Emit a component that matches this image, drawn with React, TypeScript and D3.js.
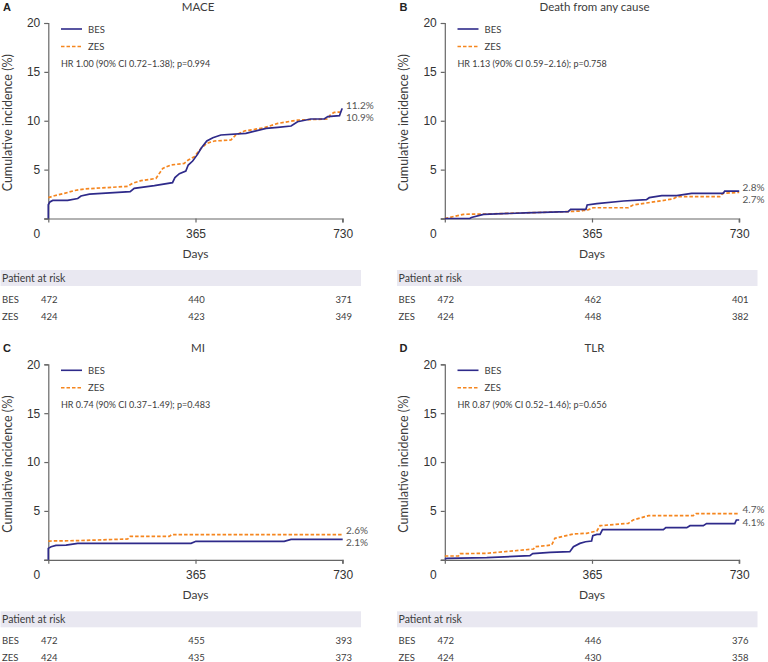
import { useEffect, useRef } from "react";
import * as d3 from "d3";

type Pt = [number, number];

const letters = ["A", "B", "C", "D"];
const titles = ["MACE", "Death from any cause", "MI", "TLR"];
const hrTexts = [
  "HR 1.00 (90% CI 0.72–1.38); p=0.994",
  "HR 1.13 (90% CI 0.59–2.16); p=0.758",
  "HR 0.74 (90% CI 0.37–1.49); p=0.483",
  "HR 0.87 (90% CI 0.52–1.46); p=0.656",
];
const seriesNames = ["BES", "ZES"];
const xTicks = [0, 365, 730];
const yTicks = [0, 5, 10, 15, 20];

// [day, cumulative incidence %]
const maceBes: Pt[] = [
  [0, 0], [0, 1.4], [4, 1.7], [11, 1.85], [48, 1.86], [73, 2.05], [81, 2.3], [102, 2.5],
  [203, 2.74], [213, 3.08], [263, 3.36], [308, 3.67], [314, 4.18], [325, 4.59], [341, 4.86],
  [347, 5.47], [358, 5.88], [370, 6.56], [379, 7.18], [393, 7.93], [408, 8.27], [428, 8.54],
  [490, 8.71], [507, 8.88], [540, 9.22], [569, 9.32], [602, 9.46], [618, 9.9], [651, 10.18],
  [684, 10.18], [693, 10.42], [722, 10.52], [728, 11.2], [730, 11.2],
];
const maceZes: Pt[] = [
  [0, 2.13], [15, 2.33], [40, 2.57], [64, 2.85], [89, 3.02], [197, 3.29], [209, 3.6],
  [230, 3.87], [267, 4.1], [275, 4.59], [284, 5.13], [304, 5.47], [337, 5.64], [347, 5.98],
  [362, 6.32], [379, 7.18], [393, 7.69], [412, 7.93], [453, 8.03], [465, 8.54], [486, 8.95],
  [536, 9.29], [569, 9.73], [618, 10.07], [693, 10.18], [699, 10.59], [709, 10.86], [730, 10.9],
];
const deathBes: Pt[] = [
  [0, 0], [62, 0], [66, 0.1], [96, 0.42], [200, 0.58], [306, 0.7], [312, 0.94], [350, 0.94],
  [353, 1.38], [377, 1.52], [443, 1.79], [500, 1.93], [507, 2.13], [538, 2.34], [575, 2.34],
  [612, 2.57], [690, 2.57], [694, 2.8], [730, 2.8],
];
const deathZes: Pt[] = [
  [0, 0], [13, 0.12], [46, 0.43], [104, 0.46], [302, 0.7], [339, 0.77], [343, 0.83],
  [352, 0.83], [368, 1.1], [455, 1.1], [467, 1.38], [566, 2.0], [576, 2.23], [682, 2.23],
  [689, 2.57], [730, 2.68],
];
const miBes: Pt[] = [
  [0, 0], [0, 1.17], [7, 1.34], [19, 1.48], [44, 1.51], [73, 1.68], [354, 1.68], [366, 1.89],
  [585, 1.89], [602, 2.09], [730, 2.09],
];
const miZes: Pt[] = [
  [0, 1.92], [73, 1.96], [197, 2.13], [203, 2.4], [300, 2.4], [306, 2.57], [730, 2.57],
];
const tlrBes: Pt[] = [
  [0, 0.08], [5, 0.15], [104, 0.22], [211, 0.42], [218, 0.63], [261, 0.76], [310, 0.83],
  [319, 1.34], [335, 1.68], [349, 1.85], [364, 1.92], [367, 2.47], [377, 2.6], [385, 2.6],
  [391, 3.08], [542, 3.08], [548, 3.29], [600, 3.29], [608, 3.49], [641, 3.49], [649, 3.7],
  [719, 3.7], [723, 4.07], [730, 4.07],
];
const tlrZes: Pt[] = [
  [0, 0.39], [34, 0.39], [38, 0.63], [104, 0.66], [220, 1.1], [224, 1.34], [265, 1.51],
  [273, 2.2], [319, 2.64], [352, 2.71], [377, 2.95], [385, 3.49], [455, 3.73], [467, 4.07],
  [505, 4.51], [616, 4.51], [623, 4.72], [730, 4.72],
];

const besCurves = [maceBes, deathBes, miBes, tlrBes];
const zesCurves = [maceZes, deathZes, miZes, tlrZes];
const finalBes = [11.2, 2.8, 2.1, 4.1];
const finalZes = [10.9, 2.7, 2.6, 4.7];

const riskBes = [
  [472, 440, 371],
  [472, 462, 401],
  [472, 455, 393],
  [472, 446, 376],
];
const riskZes = [
  [424, 423, 349],
  [424, 448, 382],
  [424, 435, 373],
  [424, 430, 358],
];

const BLUE = "#2e2a8a";
const ORANGE = "#f5861f";
const TEXT = "#3c3c3c";
const LATO = "Lato, 'Noto Sans', sans-serif";
const ARIAL = "'Liberation Sans', Arial, sans-serif";

export default function App() {
  const svgRef = useRef<SVGSVGElement | null>(null);

  useEffect(() => {
    const svg = d3.select(svgRef.current);
    svg.selectAll("*").remove();

    const offsets: [number, number][] = [
      [0, 0],
      [396.5, 0],
      [0, 341.3],
      [396.5, 341.3],
    ];

    offsets.forEach(([ox, oy], i) => {
      const g = svg.append("g").attr("transform", `translate(${ox},${oy})`);
      const x = d3.scaleLinear().domain([0, 730]).range([48.3, 342.7]);
      const y = d3.scaleLinear().domain([0, 20]).range([218.5, 23]);

      // panel letter and title
      g.append("text")
        .attr("x", 3)
        .attr("y", 11)
        .attr("font-family", ARIAL)
        .attr("font-weight", "bold")
        .attr("font-size", 11)
        .attr("fill", "#222")
        .text(letters[i]);
      g.append("text")
        .attr("x", 198)
        .attr("y", 10.5)
        .attr("text-anchor", "middle")
        .attr("font-family", LATO)
        .attr("font-size", 11.5)
        .attr("fill", TEXT)
        .text(titles[i]);

      // axes
      const yAxis = g.append("g")
        .attr("transform", `translate(${x(0)},0)`)
        .call(d3.axisLeft(y).tickValues(yTicks).tickSize(4).tickPadding(4)
          .tickFormat((d) => (d === 0 ? "" : String(d))));
      const xAxis = g.append("g")
        .attr("transform", `translate(0,${y(0)})`)
        .call(d3.axisBottom(x).tickValues(xTicks).tickSize(4).tickPadding(7));
      [yAxis, xAxis].forEach((ax) => {
        ax.select(".domain").attr("stroke", "#666").attr("stroke-width", 1.2);
        ax.selectAll(".tick line").attr("stroke", "#666").attr("stroke-width", 1.2);
        ax.selectAll("text")
          .attr("font-family", ARIAL)
          .attr("font-size", 12)
          .attr("fill", "#333");
      });
      xAxis.select(".domain").attr("d", `M${x(0) - 4},0.5H${x(730)}V4`);
      xAxis.selectAll<SVGTextElement, number>(".tick text")
        .attr("dx", (d) => (d === 0 ? -12 : 0));

      g.append("text")
        .attr("x", x(365))
        .attr("y", 258)
        .attr("text-anchor", "middle")
        .attr("font-family", LATO)
        .attr("font-size", 12)
        .attr("fill", TEXT)
        .text("Days");
      g.append("text")
        .attr("transform", `translate(11.5,${(y(0) + y(20)) / 2 + 2}) rotate(-90)`)
        .attr("text-anchor", "middle")
        .attr("font-family", LATO)
        .attr("font-size", 12.5)
        .attr("fill", TEXT)
        .text("Cumulative incidence (%)");

      // curves
      const line = d3.line<Pt>().x((d) => x(d[0])).y((d) => y(d[1]));
      g.append("path")
        .attr("d", line(zesCurves[i]))
        .attr("fill", "none")
        .attr("stroke", ORANGE)
        .attr("stroke-width", 1.7)
        .attr("stroke-dasharray", "3.5,2");
      g.append("path")
        .attr("d", line(besCurves[i]))
        .attr("fill", "none")
        .attr("stroke", BLUE)
        .attr("stroke-width", 1.7);

      // legend
      const legend = [
        { name: seriesNames[0], color: BLUE, dash: null, ly: 29 },
        { name: seriesNames[1], color: ORANGE, dash: "3.5,2", ly: 46.5 },
      ];
      legend.forEach((l) => {
        g.append("line")
          .attr("x1", 61).attr("x2", 82)
          .attr("y1", l.ly).attr("y2", l.ly)
          .attr("stroke", l.color)
          .attr("stroke-width", 1.6)
          .attr("stroke-dasharray", l.dash);
        g.append("text")
          .attr("x", 88)
          .attr("y", l.ly + 3.5)
          .attr("font-family", LATO)
          .attr("font-size", 9.5)
          .attr("fill", TEXT)
          .text(l.name);
      });
      g.append("text")
        .attr("x", 61)
        .attr("y", 66.5)
        .attr("font-family", LATO)
        .attr("font-size", 9)
        .attr("fill", TEXT)
        .text(hrTexts[i]);

      // end labels
      const hi = Math.max(finalBes[i], finalZes[i]);
      const lo = Math.min(finalBes[i], finalZes[i]);
      const upperY = y(hi) - 4;
      [hi, lo].forEach((v, k) => {
        g.append("text")
          .attr("x", 346)
          .attr("y", upperY + k * 12.5 + 3.5)
          .attr("font-family", LATO)
          .attr("font-size", 10)
          .attr("fill", "#555")
          .text(`${v.toFixed(1)}%`);
      });

      // patients at risk
      g.append("rect")
        .attr("x", 0.5)
        .attr("y", 270)
        .attr("width", 360.5)
        .attr("height", 16)
        .attr("fill", "#e9e8f1");
      g.append("text")
        .attr("x", 2)
        .attr("y", 281.5)
        .attr("font-family", LATO)
        .attr("font-size", 10.5)
        .attr("fill", TEXT)
        .text("Patient at risk");
      [riskBes[i], riskZes[i]].forEach((row, r) => {
        const ry = 302.5 + r * 17;
        g.append("text")
          .attr("x", 2)
          .attr("y", ry)
          .attr("font-family", LATO)
          .attr("font-size", 9.5)
          .attr("fill", TEXT)
          .text(seriesNames[r]);
        row.forEach((n, k) => {
          g.append("text")
            .attr("x", x(xTicks[k]) + 1)
            .attr("y", ry)
            .attr("text-anchor", "middle")
            .attr("font-family", LATO)
            .attr("font-size", 9.5)
            .attr("fill", TEXT)
            .text(String(n));
        });
      });
    });
  }, []);

  return (
    <svg
      ref={svgRef}
      width={768}
      height={662}
      style={{ position: "absolute", left: 0, top: 0, background: "#fff" }}
    />
  );
}
